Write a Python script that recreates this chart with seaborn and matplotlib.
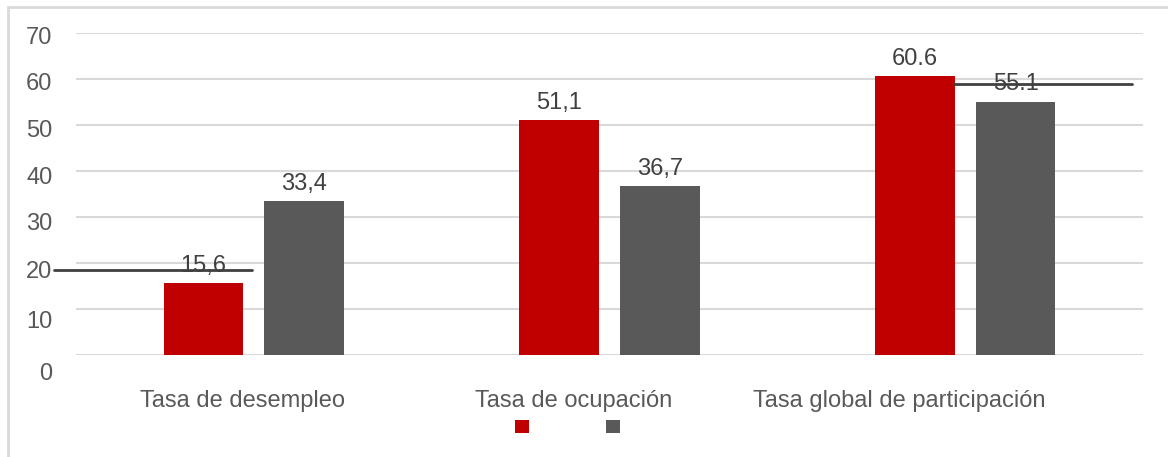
import matplotlib
matplotlib.use("Agg")
import matplotlib.pyplot as plt
import matplotlib.transforms as mtransforms
from matplotlib.patches import Patch, Rectangle
import seaborn as sns
import pandas as pd

# ---- data ----
categories = ["Tasa de desempleo", "Tasa de ocupación", "Tasa global de participación"]
series_names = ["Serie 1", "Serie 2"]
serie1 = [15.6, 51.1, 60.6]
serie2 = [33.4, 36.7, 55.1]
labels1 = ["15,6", "51,1", "60.6"]
labels2 = ["33,4", "36,7", "55.1"]
yticks = [0, 10, 20, 30, 40, 50, 60, 70]
# stray horizontal lines in the original: (y value, x start, x end) in category units
stray_lines = [(18.5, -0.563, -0.004), (59.0, 1.968, 2.47)]

colors = ["#C00000", "#595959"]
text_color = "#595959"
label_color = "#404040"

df = pd.DataFrame({
    "cat": categories * 2,
    "serie": [series_names[0]] * 3 + [series_names[1]] * 3,
    "val": serie1 + serie2,
})

sns.set_theme(style="white")
plt.rcParams["font.family"] = ["Liberation Sans", "DejaVu Sans"]

W, H = 1168, 457
fig = plt.figure(figsize=(W / 100, H / 100), dpi=100)
ax = fig.add_axes([76 / W, 1 - 355 / H, (1143 - 76) / W, (355 - 33) / H])

sns.barplot(data=df, x="cat", y="val", hue="serie", order=categories,
            hue_order=series_names, palette=colors, width=0.567, gap=0.21,
            saturation=1, legend=False, linewidth=0, ax=ax)

ax.set_xlim(-0.5, 2.5)
ax.set_ylim(0, 70)
ax.set_yticks(yticks)
ax.set_yticklabels([str(t) for t in yticks])
ax.set_xlabel("")
ax.set_ylabel("")
for s in ax.spines.values():
    s.set_visible(False)
ax.yaxis.grid(True, color="#D9D9D9", linewidth=1.5)
ax.set_axisbelow(True)
ax.tick_params(axis="y", length=0, pad=17, labelsize=17, labelcolor=text_color)
ax.tick_params(axis="x", length=0, pad=25.5, labelsize=17, labelcolor=text_color)

# category label shifts as in original (pixels)
shifts = [-11, -36, -66]
for lab, dx in zip(ax.get_xticklabels(), shifts):
    lab.set_transform(lab.get_transform() + mtransforms.ScaledTranslation(dx / 100, 0, fig.dpi_scale_trans))
# y tick label vertical drift as in original (pixels, downward)
ydrift = [16, 10, 6, 5, 5, 3, 2, 2]
for lab, dy in zip(ax.get_yticklabels(), ydrift):
    lab.set_transform(lab.get_transform() + mtransforms.ScaledTranslation(0, -dy / 100, fig.dpi_scale_trans))

for cont, labs in zip(ax.containers, [labels1, labels2]):
    ax.bar_label(cont, labels=labs, padding=4.5, fontsize=17, color=label_color)

for yv, x0, x1 in stray_lines:
    ax.plot([x0, x1], [yv, yv], color="#404040", linewidth=2, clip_on=False, zorder=5)

handles = [Patch(facecolor=c, edgecolor="none") for c in colors]
fig.legend(handles, ["", ""], loc="center", bbox_to_anchor=(567.5 / W, 1 - 429 / H),
           ncol=2, frameon=False, handlelength=0.6, handleheight=0.5,
           handletextpad=0, columnspacing=3.2, fontsize=23.9 * 0.72)

# outer border (left and top visible)
fig.patches.append(Rectangle((8 / W, -0.5), 1.5, 0.5 + (H - 7) / H, transform=fig.transFigure,
                             fill=False, edgecolor="#D9D9D9", linewidth=2))

fig.savefig("out.png", dpi=100)
